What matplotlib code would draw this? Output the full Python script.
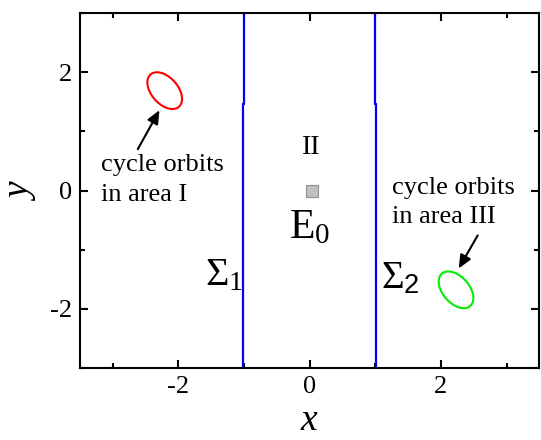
import matplotlib
matplotlib.use("Agg")
import matplotlib.pyplot as plt
from matplotlib.patches import Ellipse
from matplotlib.ticker import MultipleLocator

plt.rcParams["font.family"] = ["Liberation Serif", "DejaVu Serif"]
plt.rcParams["mathtext.fontset"] = "custom"
plt.rcParams["mathtext.rm"] = "Liberation Serif"
plt.rcParams["mathtext.it"] = "Liberation Serif:italic"
plt.rcParams["mathtext.sf"] = "Liberation Sans"
plt.rcParams["axes.unicode_minus"] = False

# switching lines Sigma_1, Sigma_2 (x, y)
sigma1_x = [-1.01, -1.01, -0.995, -0.995]
sigma1_y = [-3.0, 1.47, 1.47, 3.0]
sigma2_x = [1.01, 1.01, 1.0, 1.0]
sigma2_y = [-3.0, 1.47, 1.47, 3.0]

# cycle orbits: center, width, height, angle
orbit1_center = (-2.21, 1.69)
orbit2_center = (2.23, -1.68)
orbit_size = (0.70, 0.42)
orbit_angle = -55

# equilibrium point E0
e0_x = [0.04]
e0_y = [0.0]

fig = plt.figure(figsize=(5.41, 4.40), dpi=100)
ax = fig.add_axes([0.148, 0.164, 0.849, 0.806])

ax.plot(sigma1_x, sigma1_y, color="#0000ff", lw=1.6)
ax.plot(sigma2_x, sigma2_y, color="#0000ff", lw=1.6)

ax.add_patch(Ellipse(orbit1_center, orbit_size[0], orbit_size[1], angle=orbit_angle,
                     fill=False, edgecolor="#ff0000", lw=1.5))
ax.add_patch(Ellipse(orbit2_center, orbit_size[0], orbit_size[1], angle=orbit_angle,
                     fill=False, edgecolor="#00ee00", lw=1.5))

ax.plot(e0_x, e0_y, marker="s", ms=8, color="#c0c0c0", mec="#909090", mew=0.8, ls="none")

# labels
ax.text(0.03, 0.73, "II", fontsize=20, ha="center", va="center")
ax.text(0.0, -0.63, r"$\mathrm{E}_0$", fontsize=30, ha="center", va="center")
ax.text(-1.3, -1.45, r"$\Sigma_1$", fontsize=29, ha="center", va="center")
ax.text(1.38, -1.5, r"$\Sigma_{\mathsf{2}}$", fontsize=28, ha="center", va="center")

ax.text(-3.18, 0.18, "cycle orbits\nin area I", fontsize=19, ha="left", va="center",
        linespacing=1.45)
ax.text(1.25, -0.2, "cycle orbits\nin area III", fontsize=19, ha="left", va="center",
        linespacing=1.45)

arrow = dict(arrowstyle="-|>,head_length=0.8,head_width=0.35", lw=1.5, color="black",
             shrinkA=0, shrinkB=0)
ax.annotate("", xy=(-2.29, 1.36), xytext=(-2.62, 0.7), arrowprops=arrow)
ax.annotate("", xy=(2.27, -1.32), xytext=(2.56, -0.76), arrowprops=arrow)

ax.set_xlim(-3.5, 3.5)
ax.set_ylim(-3, 3)
ax.xaxis.set_major_locator(MultipleLocator(2))
ax.xaxis.set_minor_locator(MultipleLocator(1))
ax.yaxis.set_major_locator(MultipleLocator(2))
ax.yaxis.set_minor_locator(MultipleLocator(1))
ax.tick_params(which="both", direction="in", top=True, right=True, width=1.5,
               labelsize=19)
ax.tick_params(which="major", length=6, pad=6)
ax.tick_params(which="minor", length=3.5)
for s in ax.spines.values():
    s.set_linewidth(1.5)

ax.set_xlabel(r"$x$", fontsize=27, labelpad=4)
ax.set_ylabel(r"$y$", fontsize=27, labelpad=8)

fig.savefig("out.png", dpi=100)
